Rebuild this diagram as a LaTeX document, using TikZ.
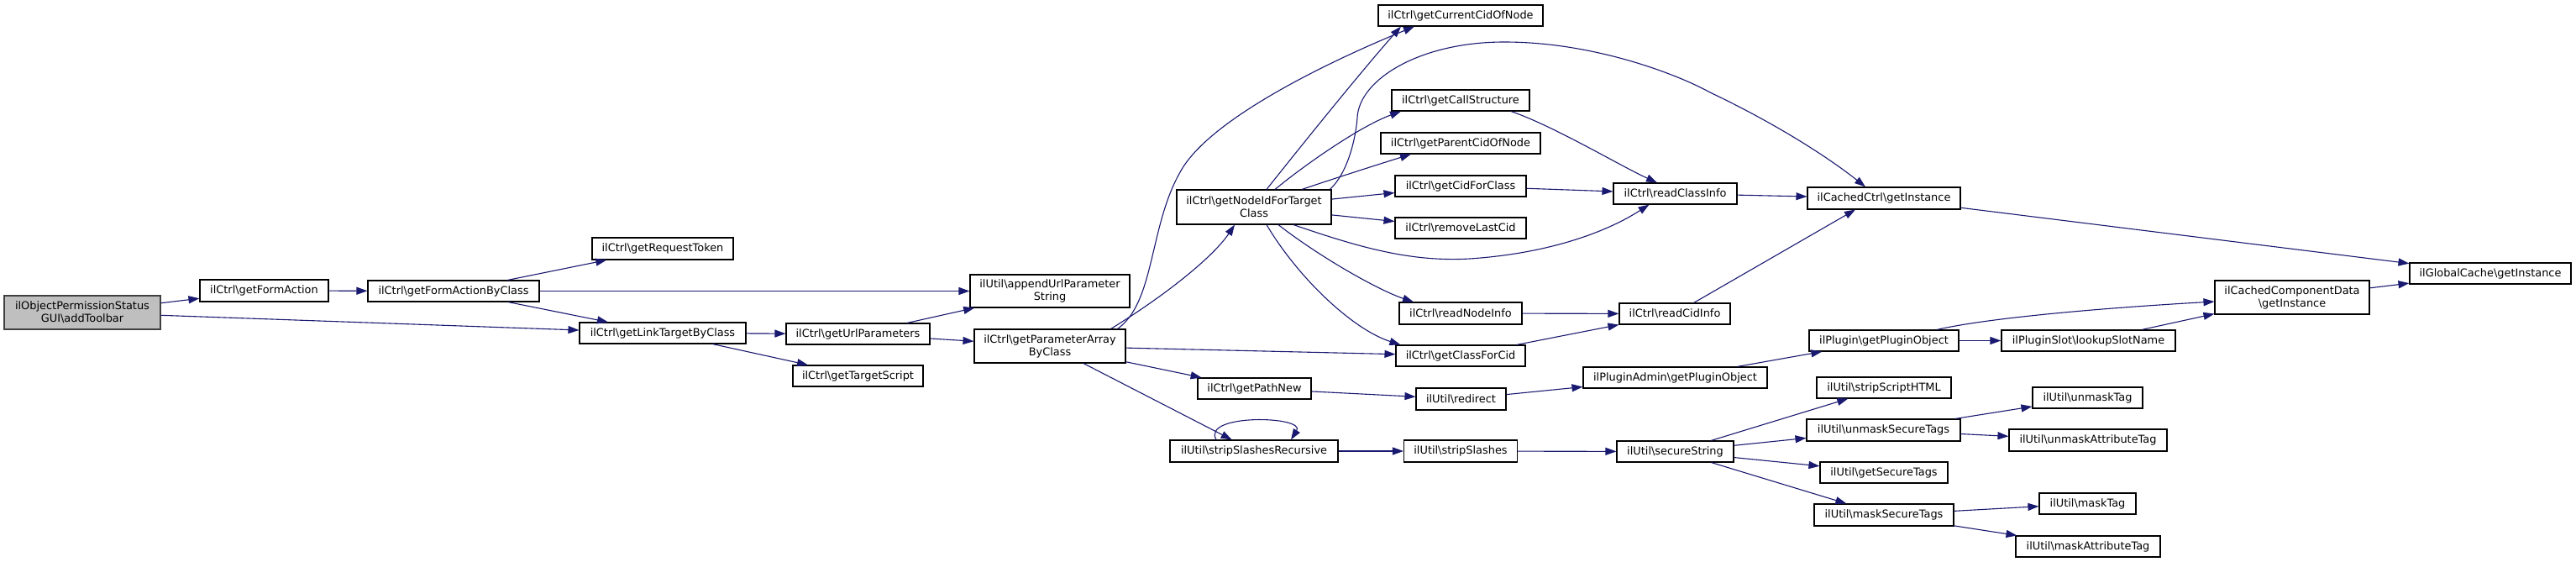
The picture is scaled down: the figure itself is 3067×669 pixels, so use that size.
\documentclass[tikz,border=0pt]{standalone}
\usepackage{fontspec}
\setmainfont{DejaVu Sans}
\usetikzlibrary{arrows.meta,calc}
\definecolor{edgecol}{HTML}{191970}
\definecolor{rootfill}{HTML}{BFBFBF}
\definecolor{rootline}{HTML}{404040}
\begin{document}
\begin{tikzpicture}[x=1pt,y=-1pt,
  box/.style={draw=black, line width=1.1pt, fill=white, rectangle, inner sep=0pt, align=center,
    font=\fontsize{12.9}{15}\selectfont},
  rootbox/.style={box, fill=rootfill, draw=rootline},
  edge/.style={draw=edgecol, line width=1.1pt, -{Triangle[length=13pt,width=9pt]}},
]
\useasboundingbox (0,0) rectangle (3067,669);
\newcommand{\bs}{\textbackslash}

% nodes
\node[rootbox, minimum width=186pt, minimum height=40pt] (at) at (98,372) {ilObjectPermissionStatus\\GUI\bs addToolbar};
\node[box, minimum width=153pt, minimum height=26pt] (gfa) at (314.5,346) {ilCtrl\bs getFormAction};
\node[box, minimum width=204pt, minimum height=25pt] (gfabc) at (540,346.5) {ilCtrl\bs getFormActionByClass};
\node[box, minimum width=168pt, minimum height=26pt] (grt) at (789,296) {ilCtrl\bs getRequestToken};
\node[box, minimum width=198pt, minimum height=25pt] (gltbc) at (789,396.5) {ilCtrl\bs getLinkTargetByClass};
\node[box, minimum width=171pt, minimum height=25pt] (gup) at (1021.5,397.5) {ilCtrl\bs getUrlParameters};
\node[box, minimum width=155pt, minimum height=25pt] (gts) at (1021.5,447.5) {ilCtrl\bs getTargetScript};
\node[box, minimum width=190pt, minimum height=39pt] (aups) at (1250,346.5) {ilUtil\bs appendUrlParameter\\String};
\node[box, minimum width=180pt, minimum height=40pt] (pab) at (1250,412) {ilCtrl\bs getParameterArray\\ByClass};
\node[box, minimum width=135pt, minimum height=25pt] (gpn) at (1493.5,462.5) {ilCtrl\bs getPathNew};
\node[box, minimum width=200pt, minimum height=26pt] (ssr) at (1493,537) {ilUtil\bs stripSlashesRecursive};
\node[box, minimum width=184pt, minimum height=41pt] (nid) at (1493,246.5) {ilCtrl\bs getNodeIdForTarget\\Class};
\node[box, minimum width=196pt, minimum height=25pt] (ccn) at (1739,18.5) {ilCtrl\bs getCurrentCidOfNode};
\node[box, minimum width=164pt, minimum height=25pt] (gcs) at (1739,119.5) {ilCtrl\bs getCallStructure};
\node[box, minimum width=190pt, minimum height=25pt] (gpc) at (1739,170.5) {ilCtrl\bs getParentCidOfNode};
\node[box, minimum width=156pt, minimum height=25pt] (gcfc) at (1739,221.5) {ilCtrl\bs getCidForClass};
\node[box, minimum width=156pt, minimum height=25pt] (rlc) at (1739,271.5) {ilCtrl\bs removeLastCid};
\node[box, minimum width=147pt, minimum height=25pt] (rci) at (1994.5,230.5) {ilCtrl\bs readClassInfo};
\node[box, minimum width=182pt, minimum height=26pt] (cci) at (2243,236) {ilCachedCtrl\bs getInstance};
\node[box, minimum width=146pt, minimum height=26pt] (rni) at (1739,373) {ilCtrl\bs readNodeInfo};
\node[box, minimum width=132pt, minimum height=25pt] (rcid) at (1994,373.5) {ilCtrl\bs readCidInfo};
\node[box, minimum width=154pt, minimum height=25pt] (gcfcid) at (1739,423.5) {ilCtrl\bs getClassForCid};
\node[box, minimum width=107pt, minimum height=26pt] (redir) at (1739.5,475) {ilUtil\bs redirect};
\node[box, minimum width=219pt, minimum height=25pt] (pao) at (1994.5,449.5) {ilPluginAdmin\bs getPluginObject};
\node[box, minimum width=178pt, minimum height=25pt] (pgo) at (2243,405.5) {ilPlugin\bs getPluginObject};
\node[box, minimum width=207pt, minimum height=25pt] (lsn) at (2486.5,405.5) {ilPluginSlot\bs lookupSlotName};
\node[box, minimum width=184pt, minimum height=40pt] (ccd) at (2729,354) {ilCachedComponentData\\\bs getInstance};
\node[box, minimum width=192pt, minimum height=25pt] (gci) at (2965,325.5) {ilGlobalCache\bs getInstance};
\node[box, minimum width=135pt, minimum height=26pt] (ss) at (1739,537) {ilUtil\bs stripSlashes};
\node[box, minimum width=139pt, minimum height=25pt] (sec) at (1994.5,537.5) {ilUtil\bs secureString};
\node[box, minimum width=160pt, minimum height=25pt] (ssh) at (2243,461.5) {ilUtil\bs stripScriptHTML};
\node[box, minimum width=183pt, minimum height=26pt] (ust) at (2242.5,512) {ilUtil\bs unmaskSecureTags};
\node[box, minimum width=152pt, minimum height=25pt] (gst) at (2243,562.5) {ilUtil\bs getSecureTags};
\node[box, minimum width=166pt, minimum height=26pt] (mst) at (2243,613) {ilUtil\bs maskSecureTags};
\node[box, minimum width=131pt, minimum height=25pt] (ut) at (2485.5,473.5) {ilUtil\bs unmaskTag};
\node[box, minimum width=188pt, minimum height=26pt] (uat) at (2486,524) {ilUtil\bs unmaskAttributeTag};
\node[box, minimum width=115pt, minimum height=25pt] (mt) at (2485.5,599.5) {ilUtil\bs maskTag};
\node[box, minimum width=172pt, minimum height=25pt] (mat) at (2486,650.5) {ilUtil\bs maskAttributeTag};

% edges
\draw[edge] (at) -- (gfa);
\draw[edge] (at) -- (gltbc);
\draw[edge] (gfa) -- (gfabc);
\draw[edge] (gfabc) -- (grt);
\draw[edge] (gfabc) -- (aups);
\draw[edge] (gfabc) -- (gltbc);
\draw[edge] (gltbc) -- (gup);
\draw[edge] (gltbc) -- (gts);
\draw[edge] (gup) -- (aups);
\draw[edge] (gup) -- (pab);
\draw[edge] ([xshift=-10pt]pab.north east) .. controls (1375,360) and (1368,270) .. (1405,205)
   .. controls (1440,140) and (1590,70) .. ([xshift=-55pt]ccn.south);
\draw[edge] ([xshift=-18pt]pab.north east) .. controls (1390,350) and (1445,305) .. ([xshift=-23pt]nid.south);
\draw[edge] (pab) -- (gcfcid);
\draw[edge] (pab) -- (gpn);
\draw[edge] (pab) -- (ssr);
\draw[edge] ([xshift=15pt]nid.north) .. controls (1560,160) and (1625,80) .. ([xshift=-71pt]ccn.south);
\draw[edge] ([xshift=-2pt]nid.north east) .. controls (1605,205) and (1614,165) .. (1616,140)
   .. controls (1618,95) and (1690,50) .. (1791,50)
   .. controls (1900,50) and (2000,90) .. (2036,110)
   .. controls (2120,150) and (2180,190) .. ([xshift=-22pt]cci.north);
\draw[edge] ([xshift=25pt]nid.north) .. controls (1555,195) and (1620,150) .. ([xshift=-71pt]gcs.south);
\draw[edge] ([xshift=57pt]nid.north) .. controls (1590,212) and (1640,196) .. ([xshift=-59pt]gpc.south);
\draw[edge] (nid) -- (gcfc);
\draw[edge] (nid) -- (rlc);
\draw[edge] ([xshift=47pt]nid.south) .. controls (1620,295) and (1680,312) .. (1750,308)
   .. controls (1840,302) and (1910,278) .. ([xshift=-31pt]rci.south);
\draw[edge] ([xshift=29pt]nid.south) .. controls (1570,305) and (1640,345) .. ([xshift=-56pt]rni.north);
\draw[edge] ([xshift=15pt]nid.south) .. controls (1545,330) and (1610,392) .. ([xshift=6pt]gcfcid.north west);
\draw[edge] ([xshift=60pt]gcs.south) .. controls (1850,150) and (1930,198) .. ([xshift=-21.5pt]rci.north);
\draw[edge] (gcfc) -- (rci);
\draw[edge] (rci) -- (cci);
\draw[edge] (rni) -- (rcid);
\draw[edge] (gcfcid) -- (rcid);
\draw[edge] (rcid) -- ([xshift=-34pt]cci.south);
\draw[edge] (cci) -- (gci);
\draw[edge] (gpn) -- (redir);
\draw[edge] (redir) -- (pao);
\draw[edge] (pao) -- (pgo);
\draw[edge] (pgo) -- (lsn);
\draw[edge] ([xshift=63pt]pgo.north) .. controls (2360,380) and (2480,368) .. ([yshift=-5pt]ccd.west);
\draw[edge] ([xshift=63.5pt]lsn.north) -- ([yshift=1pt]ccd.south west);
\draw[edge] (ccd) -- (gci);
\draw[edge] ([xshift=-45pt]ssr.north) .. controls (1430,492) and (1555,495) .. ([xshift=44pt]ssr.north);
\draw[edge] (ssr) -- (ss);
\draw[edge] (ss) -- (sec);
\draw[edge] (sec) -- (ssh);
\draw[edge] (sec) -- (ust);
\draw[edge] (sec) -- (gst);
\draw[edge] (sec) -- (mst);
\draw[edge] (ust) -- (ut);
\draw[edge] (ust) -- (uat);
\draw[edge] (mst) -- (mt);
\draw[edge] (mst) -- (mat);
\end{tikzpicture}
\end{document}
